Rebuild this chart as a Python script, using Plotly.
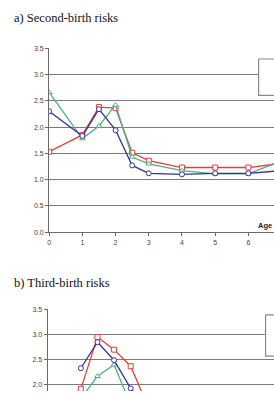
import plotly.graph_objects as go

# ---- data: a) Second-birth risks ----
ages_a = [0, 1, 1.5, 2, 2.5, 3, 4, 5, 6, 7]
red_a = [1.53, 1.85, 2.38, 2.36, 1.51, 1.36, 1.23, 1.23, 1.23, 1.31]
blue_a = [2.30, 1.83, 2.34, 1.94, 1.27, 1.12, 1.10, 1.12, 1.12, 1.17]
green_a = [2.66, 1.78, 2.02, 2.42, 1.43, 1.30, 1.17, 1.11, 1.11, 1.36]

# ---- data: b) Third-birth risks ----
ages_b = [1, 1.5, 2, 2.5, 3]
red_b = [1.92, 2.95, 2.70, 2.37, 1.60]
blue_b = [2.33, 2.85, 2.49, 1.93, 1.55]
green_b = [1.73, 2.17, 2.40, 1.60, 1.35]

y_ticks = [0.0, 0.5, 1.0, 1.5, 2.0, 2.5, 3.0, 3.5]
x_ticks = [0, 1, 2, 3, 4, 5, 6]

RED = "#e43f3a"
BLUE = "#34349a"
GREEN = "#55ad88"
GRID = "#7a7a7a"
AXIS = "#6a6a6a"
TICKFONT = dict(family="Liberation Sans, Arial, sans-serif", size=7, color="#444444")

W, H = 274, 394

fig = go.Figure()

def add_series(x, y, color, symbol, xa, ya):
    fig.add_trace(go.Scatter(
        x=x, y=y, mode="lines+markers", xaxis=xa, yaxis=ya,
        line=dict(color=color, width=1.3),
        marker=dict(symbol=symbol, size=5, color="white",
                    line=dict(color=color, width=1)),
        showlegend=False, cliponaxis=True,
    ))

add_series(ages_a, red_a, RED, "square", "x", "y")
add_series(ages_a, green_a, GREEN, "triangle-up", "x", "y")
add_series(ages_a, blue_a, BLUE, "circle", "x", "y")

add_series(ages_b, red_b, RED, "square", "x2", "y2")
add_series(ages_b, green_b, GREEN, "triangle-up", "x2", "y2")
add_series(ages_b, blue_b, BLUE, "circle", "x2", "y2")

# plot geometry (pixels)
a_left, a_top, a_bottom = 47.5, 45.0, 232.3
b_left, b_top = 46.0, 311.0
px_per_x = 33.45

a_xmax = (W - a_left) / px_per_x
b_xmax = (W - b_left) / px_per_x
b_px_per_y = (387.7 - 311.0) / 1.5
b_ymin = 3.5 - (H - b_top) / b_px_per_y

common_y = dict(
    tickvals=y_ticks, ticktext=[f"{v:.1f}" for v in y_ticks],
    showgrid=True, gridcolor=GRID, gridwidth=1.3,
    showline=True, linecolor=AXIS, linewidth=1.2,
    ticks="outside", ticklen=3, tickcolor=AXIS, tickwidth=1,
    tickfont=TICKFONT, zeroline=False, fixedrange=True,
)

fig.update_layout(
    width=W, height=H,
    margin=dict(l=0, r=0, t=0, b=0),
    paper_bgcolor="white", plot_bgcolor="white",
    xaxis=dict(
        domain=[a_left / W, 1], range=[0, a_xmax],
        tickvals=x_ticks, showgrid=False, zeroline=False,
        showline=True, linecolor=AXIS, linewidth=1.2,
        ticks="outside", ticklen=3, tickcolor=AXIS, tickwidth=1,
        tickfont=TICKFONT, anchor="y",
    ),
    yaxis=dict(domain=[1 - a_bottom / H, 1 - a_top / H], range=[0, 3.5],
               anchor="x", **common_y),
    xaxis2=dict(
        domain=[b_left / W, 1], range=[0, b_xmax],
        showgrid=False, zeroline=False, showline=False,
        showticklabels=False, ticks="", anchor="y2",
    ),
    yaxis2=dict(domain=[0, 1 - b_top / H], range=[b_ymin, 3.5],
                anchor="x2", **common_y),
    showlegend=False,
)

# partially visible legend boxes (cut at the right edge)
fig.add_shape(type="rect", xref="paper", yref="paper",
              x0=258.5 / W, x1=1.05, y0=1 - 93 / H, y1=1 - 56 / H,
              line=dict(color="#8a8a8a", width=1.2), fillcolor="white", layer="above")
fig.add_shape(type="rect", xref="paper", yref="paper",
              x0=265.5 / W, x1=1.05, y0=1 - 358.5 / H, y1=1 - 316.5 / H,
              line=dict(color="#8a8a8a", width=1.2), fillcolor="white", layer="above")

# axis label
fig.add_annotation(text="<b>Age</b>", xref="paper", yref="paper",
                   x=274 / W, y=1 - 225 / H, xanchor="right", yanchor="middle",
                   showarrow=False, font=dict(family="Liberation Sans, Arial, sans-serif",
                                              size=7.5, color="#222222"))

# panel titles
TITLEFONT = dict(family="Liberation Serif, Times New Roman, serif", size=12.5, color="#111111")
fig.add_annotation(text="a) Second-birth risks", xref="paper", yref="paper",
                   x=10 / W, y=1 - 14 / H, xanchor="left", yanchor="middle",
                   showarrow=False, font=TITLEFONT)
fig.add_annotation(text="b) Third-birth risks", xref="paper", yref="paper",
                   x=10 / W, y=1 - 284 / H, xanchor="left", yanchor="middle",
                   showarrow=False, font=TITLEFONT)

fig.write_html("out.html", config=dict(displayModeBar=False))
